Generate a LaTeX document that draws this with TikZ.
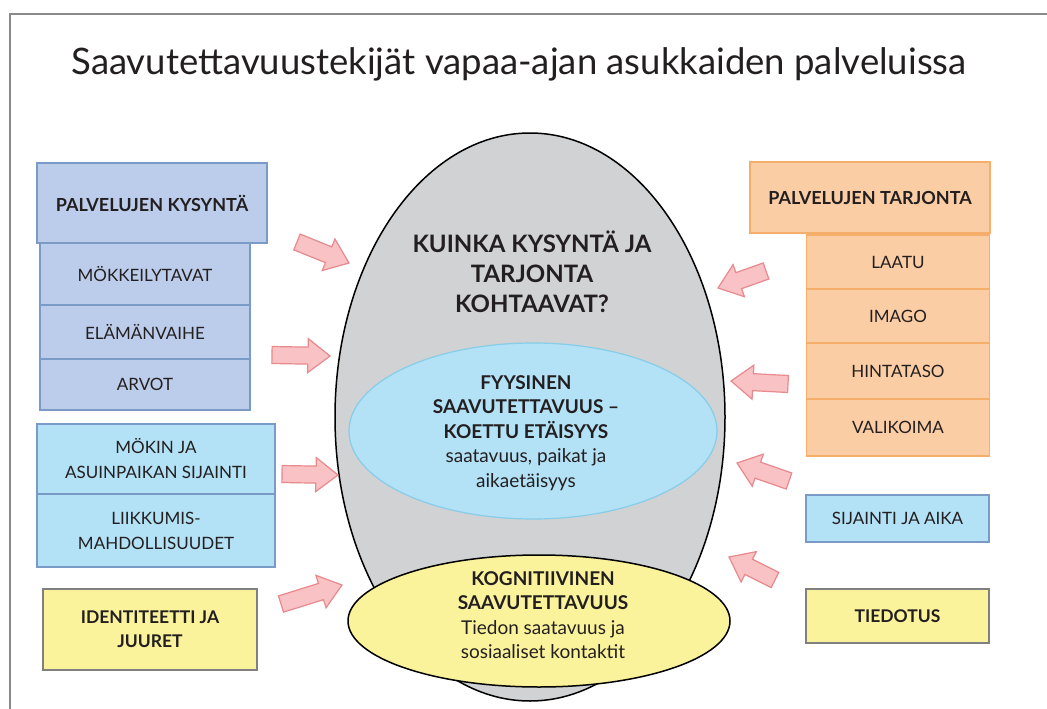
\documentclass[tikz,border=0pt]{standalone}
\usepackage{fontspec}
\setmainfont{Lato}
\usetikzlibrary{positioning, shapes.geometric, calc}

\definecolor{txt}{HTML}{231F20}
\definecolor{frameline}{HTML}{8A8A8A}
\definecolor{kysfill}{HTML}{BCCDEB}
\definecolor{kysline}{HTML}{7A9BC6}
\definecolor{vaalfill}{HTML}{B3E1F5}
\definecolor{vaalline}{HTML}{86CDE9}
\definecolor{tarjfill}{HTML}{FBCDA4}
\definecolor{tarjline}{HTML}{F6AE6B}
\definecolor{keltfill}{HTML}{FAF39B}
\definecolor{keltline}{HTML}{808080}
\definecolor{munafill}{HTML}{D1D2D4}
\definecolor{nuolifill}{HTML}{F9C2C5}
\definecolor{nuoliline}{HTML}{E8898D}

\tikzset{
  box/.style={draw, line width=1.6pt, outer sep=0pt, inner sep=2pt, align=center,
    text=txt, font=\fontsize{17}{25}\selectfont},
  kysbox/.style={box, fill=kysfill, draw=kysline},
  vaalbox/.style={box, fill=vaalfill, draw=kysline},
  tarjbox/.style={box, fill=tarjfill, draw=tarjline},
  keltbox/.style={box, fill=keltfill, draw=keltline, font=\fontsize{17.5}{24}\selectfont\bfseries},
  head/.style={font=\fontsize{18}{24}\selectfont\bfseries},
  nuoli/.style={fill=nuolifill, draw=nuoliline, line width=1.2pt, line join=miter}
}

% block arrow from tail #1 to tip #2
\newcommand{\blknuoli}[2]{%
  \path ($(#2)!22pt!(#1)$) coordinate (hb);
  \draw[nuoli] ($(#1)!8.5pt!90:(#2)$) -- ($(hb)!8.5pt!90:(#2)$)
    -- ($(hb)!17pt!90:(#2)$) -- (#2) -- ($(hb)!17pt!-90:(#2)$)
    -- ($(hb)!8.5pt!-90:(#2)$) -- ($(#1)!8.5pt!-90:(#2)$) -- cycle;}

\begin{document}
\begin{tikzpicture}[x=1pt, y=-1pt]
\useasboundingbox (0,0) rectangle (1047,709);
\fill[white] (0,0) rectangle (1047,709);
\draw[frameline, line width=1.3pt] (10,709) -- (10,14) -- (1047,14);

\node[text=txt, font=\fontsize{36.5}{44}\selectfont] (title) at (519,64)
  {Saavutettavuustekijät vapaa-ajan asukkaiden palveluissa};

% the egg and its two ellipses
\node[ellipse, draw=black, line width=1.5pt, fill=munafill, minimum width=390pt,
  minimum height=568pt, inner sep=0pt] (muna) at (530,417) {};
\node[text=txt, align=center, font=\fontsize{24}{30}\selectfont\bfseries] (kysymys)
  at (532,272) {KUINKA KYSYNTÄ JA\\TARJONTA\\KOHTAAVAT?};
\node[ellipse, draw=vaalline, line width=1.2pt, fill=vaalfill, minimum width=368pt,
  minimum height=176pt, inner sep=0pt] (fyys) at (533,431) {};
\node[text=txt, align=center, font=\fontsize{19}{24.5}\selectfont] (fyystxt) at (526,433)
  {\textbf{FYYSINEN}\\\textbf{SAAVUTETTAVUUS –}\\\textbf{KOETTU ETÄISYYS}\\saatavuus, paikat ja\\aikaetäisyys};
\node[ellipse, draw=black, line width=1.5pt, fill=keltfill, minimum width=382pt,
  minimum height=132pt, inner sep=0pt] (kogn) at (539,621) {};
\node[text=txt, align=center, font=\fontsize{19}{24.5}\selectfont] (kogntxt) at (543,615)
  {\textbf{KOGNITIIVINEN}\\\textbf{SAAVUTETTAVUUS}\\Tiedon saatavuus ja\\sosiaaliset kontaktit};

% demand side
\node[kysbox, minimum width=210pt, minimum height=62pt] (mokk) at (145,274) {MÖKKEILYTAVAT};
\node[kysbox, minimum width=210pt, minimum height=54pt, below=0pt of mokk] (elam) {ELÄMÄNVAIHE};
\node[kysbox, minimum width=210pt, minimum height=51pt, below=0pt of elam] (arvot) {ARVOT};
\node[kysbox, head, minimum width=230pt, minimum height=80pt] (kysynta) at (152,203)
  {PALVELUJEN KYSYNTÄ};
\node[vaalbox, minimum width=238pt, minimum height=70pt] (mokin) at (156,459)
  {MÖKIN JA\\ASUINPAIKAN SIJAINTI};
\node[vaalbox, minimum width=238pt, minimum height=73pt, below=0pt of mokin] (liik)
  {LIIKKUMIS-\\MAHDOLLISUUDET};
\node[keltbox, minimum width=214pt, minimum height=81pt] (ident) at (150,629.5)
  {IDENTITEETTI JA\\JUURET};

% supply side
\node[tarjbox, head, minimum width=240pt, minimum height=71pt] (tarjonta) at (870,197.5)
  {PALVELUJEN TARJONTA};
\node[tarjbox, minimum width=183pt, minimum height=54pt] (laatu) at (898,262) {LAATU};
\node[tarjbox, minimum width=183pt, minimum height=54pt, below=0pt of laatu] (imago) {IMAGO};
\node[tarjbox, minimum width=183pt, minimum height=56pt, below=0pt of imago] (hinta) {HINTATASO};
\node[tarjbox, minimum width=183pt, minimum height=57pt, below=0pt of hinta] (valik) {VALIKOIMA};
\node[vaalbox, minimum width=183pt, minimum height=47pt] (sijainti) at (897.5,518.5)
  {SIJAINTI JA AIKA};
\node[keltbox, minimum width=183pt, minimum height=54pt] (tiedotus) at (897.5,616) {TIEDOTUS};

% arrows towards the egg
\foreach \tx/\ty/\hx/\hy in {297/242/349/263, 272/355/330/356, 282/474/338/475,
  281/604/342/585, 766/271/718/288, 788/384/731/381, 789/481/737/463, 775/580/729/557}
  \blknuoli{\tx,\ty}{\hx,\hy};
\end{tikzpicture}
\end{document}
